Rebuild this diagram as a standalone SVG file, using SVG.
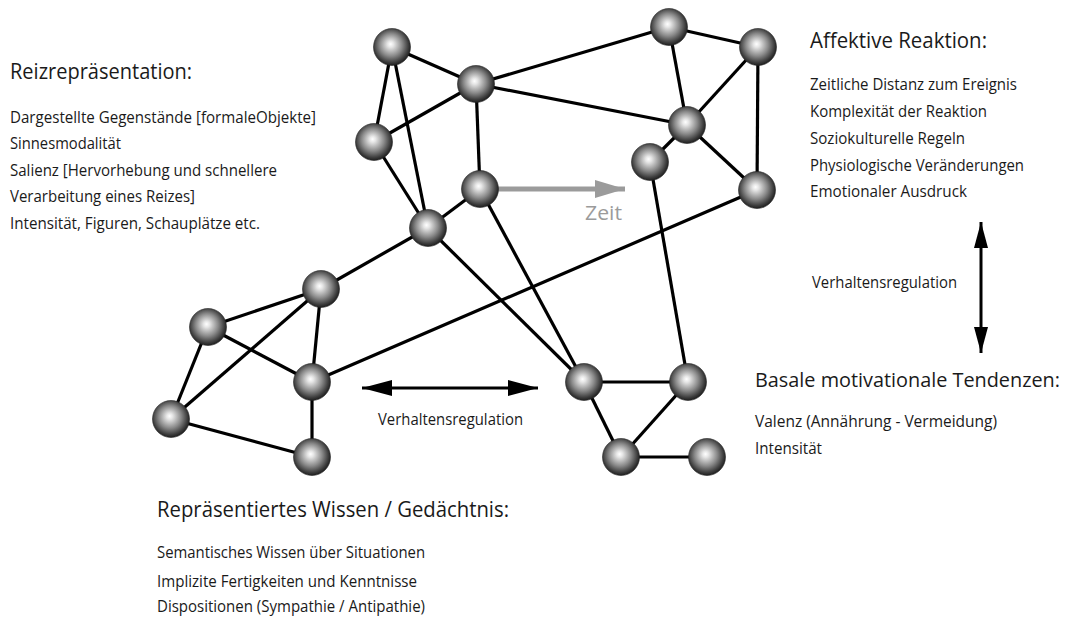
<svg xmlns="http://www.w3.org/2000/svg" width="1072" height="621" viewBox="0 0 1072 621">
<defs>
<radialGradient id="sph" cx="0.48" cy="0.46" r="0.55" fx="0.46" fy="0.42">
<stop offset="0" stop-color="#ffffff"/>
<stop offset="0.15" stop-color="#e6e6e6"/>
<stop offset="0.55" stop-color="#8a8a8a"/>
<stop offset="0.85" stop-color="#3c3c3c"/>
<stop offset="1" stop-color="#1a1a1a"/>
</radialGradient>
<marker id="ah" viewBox="0 0 30 16" refX="30" refY="8" markerWidth="30" markerHeight="16" markerUnits="userSpaceOnUse" orient="auto-start-reverse">
<path d="M0,0 L30,8 L0,16 Z" fill="#000"/>
</marker>
<marker id="ahv" viewBox="0 0 14 26" refX="7" refY="0" markerWidth="14" markerHeight="26" markerUnits="userSpaceOnUse" orient="0">
<path d="M7,0 L14,26 L0,26 Z" fill="#000"/>
</marker>
<marker id="ahv2" viewBox="0 0 14 26" refX="7" refY="26" markerWidth="14" markerHeight="26" markerUnits="userSpaceOnUse" orient="0">
<path d="M0,0 L14,0 L7,26 Z" fill="#000"/>
</marker>
<marker id="gh" viewBox="0 0 30 18" refX="30" refY="9" markerWidth="30" markerHeight="18" markerUnits="userSpaceOnUse" orient="auto">
<path d="M0,0 L30,9 L0,18 Z" fill="#9b9b9b"/>
</marker>
</defs>
<style>
.e{stroke:#000;stroke-width:3.2;fill:none}
.n{fill:url(#sph);stroke:#222;stroke-width:0.6}
.t{font-family:"Open Sans","Liberation Sans",sans-serif;fill:#1a1a1a}
.h{font-size:21px}
.b{font-size:16px}
.s{font-size:15.5px}
</style>
<rect width="1072" height="621" fill="#fff"/>
<g id="connectors">
<line class="e" x1="392" y1="47" x2="476" y2="84"/>
<line class="e" x1="392" y1="47" x2="374" y2="142"/>
<line class="e" x1="392" y1="47" x2="428" y2="228"/>
<line class="e" x1="476" y1="84" x2="669" y2="27"/>
<line class="e" x1="476" y1="84" x2="687" y2="125"/>
<line class="e" x1="476" y1="84" x2="480" y2="189"/>
<line class="e" x1="476" y1="84" x2="374" y2="142"/>
<line class="e" x1="374" y1="142" x2="428" y2="228"/>
<line class="e" x1="480" y1="189" x2="428" y2="228"/>
<line class="e" x1="480" y1="189" x2="584" y2="382"/>
<line class="e" x1="428" y1="228" x2="584" y2="382"/>
<line class="e" x1="428" y1="228" x2="321" y2="289"/>
<line class="e" x1="669" y1="27" x2="758" y2="47"/>
<line class="e" x1="669" y1="27" x2="687" y2="125"/>
<line class="e" x1="758" y1="47" x2="687" y2="125"/>
<line class="e" x1="758" y1="47" x2="757" y2="190"/>
<line class="e" x1="687" y1="125" x2="650" y2="162"/>
<line class="e" x1="687" y1="125" x2="757" y2="190"/>
<line class="e" x1="650" y1="162" x2="688" y2="382"/>
<line class="e" x1="757" y1="190" x2="312" y2="382"/>
<line class="e" x1="321" y1="289" x2="208" y2="327"/>
<line class="e" x1="321" y1="289" x2="312" y2="382"/>
<line class="e" x1="321" y1="289" x2="171" y2="419"/>
<line class="e" x1="208" y1="327" x2="312" y2="382"/>
<line class="e" x1="208" y1="327" x2="171" y2="419"/>
<line class="e" x1="312" y1="382" x2="312" y2="457"/>
<line class="e" x1="171" y1="419" x2="312" y2="457"/>
<line class="e" x1="584" y1="382" x2="688" y2="382"/>
<line class="e" x1="584" y1="382" x2="621" y2="457"/>
<line class="e" x1="688" y1="382" x2="621" y2="457"/>
<line class="e" x1="621" y1="457" x2="707" y2="457"/>
<line x1="498" y1="189" x2="625" y2="189" stroke="#9b9b9b" stroke-width="5" marker-end="url(#gh)"/>
<line x1="362" y1="388" x2="538" y2="388" stroke="#000" stroke-width="3" marker-start="url(#ah)" marker-end="url(#ah)"/>
<line x1="981" y1="222" x2="981" y2="353" stroke="#000" stroke-width="3" marker-start="url(#ahv)" marker-end="url(#ahv2)"/>
</g>
<g id="nodes">
<g id="nA"><circle class="n" cx="392" cy="47" r="18.5"/></g>
<g id="nB"><circle class="n" cx="476" cy="84" r="18.5"/></g>
<g id="nC"><circle class="n" cx="374" cy="142" r="18.5"/></g>
<g id="nD"><circle class="n" cx="480" cy="189" r="18.5"/></g>
<g id="nE"><circle class="n" cx="428" cy="228" r="18.5"/></g>
<g id="nF"><circle class="n" cx="669" cy="27" r="18.5"/></g>
<g id="nG"><circle class="n" cx="758" cy="47" r="18.5"/></g>
<g id="nH"><circle class="n" cx="687" cy="125" r="18.5"/></g>
<g id="nI"><circle class="n" cx="650" cy="162" r="18.5"/></g>
<g id="nJ"><circle class="n" cx="757" cy="190" r="18.5"/></g>
<g id="nK"><circle class="n" cx="321" cy="289" r="18.5"/></g>
<g id="nL"><circle class="n" cx="208" cy="327" r="18.5"/></g>
<g id="nM"><circle class="n" cx="312" cy="382" r="18.5"/></g>
<g id="nN"><circle class="n" cx="171" cy="419" r="18.5"/></g>
<g id="nO"><circle class="n" cx="312" cy="457" r="18.5"/></g>
<g id="nP"><circle class="n" cx="584" cy="382" r="18.5"/></g>
<g id="nQ"><circle class="n" cx="688" cy="382" r="18.5"/></g>
<g id="nR"><circle class="n" cx="621" cy="457" r="18.5"/></g>
<g id="nS"><circle class="n" cx="707" cy="457" r="18.5"/></g>
</g>
<g id="labels">
<text class="t" x="585" y="220" font-size="20" style="fill:#9b9b9b" textLength="37" lengthAdjust="spacingAndGlyphs">Zeit</text>
<text class="t s" x="378" y="425" textLength="145" lengthAdjust="spacingAndGlyphs">Verhaltensregulation</text>
<text class="t s" x="812" y="288" textLength="145" lengthAdjust="spacingAndGlyphs">Verhaltensregulation</text>
</g>
<g id="reiz">
<text class="t h" x="10" y="79" textLength="182" lengthAdjust="spacingAndGlyphs">Reizrepräsentation:</text>
<text class="t b" x="10" y="123" textLength="306" lengthAdjust="spacingAndGlyphs">Dargestellte Gegenstände [formaleObjekte]</text>
<text class="t b" x="10" y="149" textLength="111" lengthAdjust="spacingAndGlyphs">Sinnesmodalität</text>
<text class="t b" x="10" y="176" textLength="267" lengthAdjust="spacingAndGlyphs">Salienz [Hervorhebung und schnellere</text>
<text class="t b" x="10" y="202" textLength="185" lengthAdjust="spacingAndGlyphs">Verarbeitung eines Reizes]</text>
<text class="t b" x="10" y="229" textLength="250" lengthAdjust="spacingAndGlyphs">Intensität, Figuren, Schauplätze etc.</text>
</g>
<g id="affekt">
<text class="t h" x="810" y="48" textLength="177" lengthAdjust="spacingAndGlyphs">Affektive Reaktion:</text>
<text class="t b" x="810" y="90" textLength="207" lengthAdjust="spacingAndGlyphs">Zeitliche Distanz zum Ereignis</text>
<text class="t b" x="810" y="117" textLength="177" lengthAdjust="spacingAndGlyphs">Komplexität der Reaktion</text>
<text class="t b" x="810" y="144" textLength="155" lengthAdjust="spacingAndGlyphs">Soziokulturelle Regeln</text>
<text class="t b" x="810" y="171" textLength="214" lengthAdjust="spacingAndGlyphs">Physiologische Veränderungen</text>
<text class="t b" x="810" y="197" textLength="157" lengthAdjust="spacingAndGlyphs">Emotionaler Ausdruck</text>
</g>
<g id="basal">
<text class="t" font-size="19.5" x="755" y="387" textLength="305" lengthAdjust="spacingAndGlyphs">Basale motivationale Tendenzen:</text>
<text class="t b" x="755" y="427" textLength="242" lengthAdjust="spacingAndGlyphs">Valenz (Annährung - Vermeidung)</text>
<text class="t b" x="755" y="454" textLength="67" lengthAdjust="spacingAndGlyphs">Intensität</text>
</g>
<g id="wissen">
<text class="t h" x="157" y="517" textLength="352" lengthAdjust="spacingAndGlyphs">Repräsentiertes Wissen / Gedächtnis:</text>
<text class="t b" x="157" y="558" textLength="268" lengthAdjust="spacingAndGlyphs">Semantisches Wissen über Situationen</text>
<text class="t b" x="157" y="587" textLength="260" lengthAdjust="spacingAndGlyphs">Implizite Fertigkeiten und Kenntnisse</text>
<text class="t b" x="157" y="612" textLength="268" lengthAdjust="spacingAndGlyphs">Dispositionen (Sympathie / Antipathie)</text>
</g>
</svg>
